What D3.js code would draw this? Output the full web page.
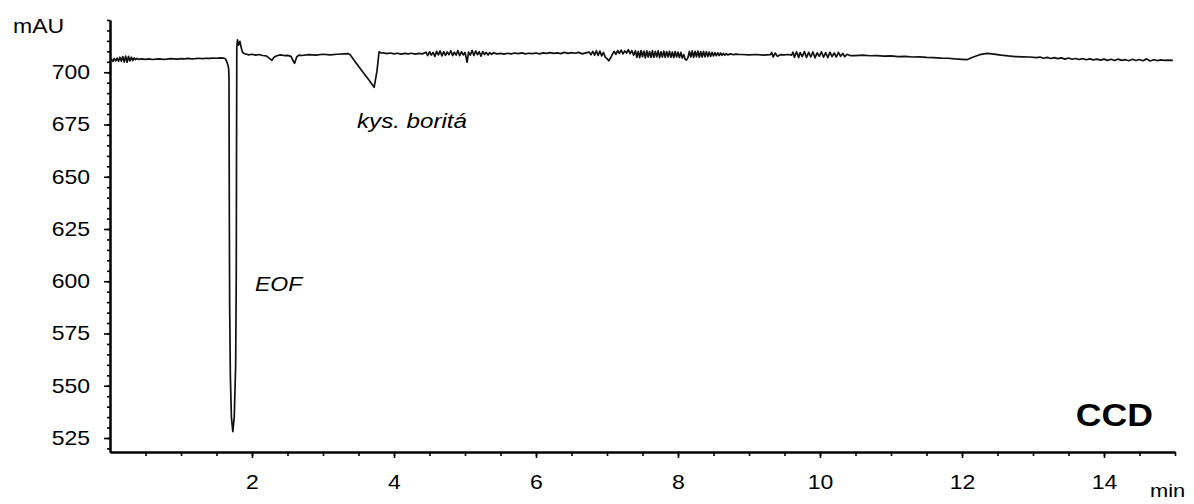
<!DOCTYPE html>
<html>
<head>
<meta charset="utf-8">
<script src="https://cdn.jsdelivr.net/npm/d3@7"></script>
<style>
  body { margin: 0; background: #fff; }
  svg { display: block; }
  text { font-family: "Liberation Sans", Arial, sans-serif; fill: #000; }
</style>
</head>
<body>
<svg width="1194" height="504"></svg>
<script>
// tick labels
var yLabels = [525, 550, 575, 600, 625, 650, 675, 700];
var xLabels = [2, 4, 6, 8, 10, 12, 14];

// electropherogram, [min, mAU]
var startNoise = [
  [0.00,705.0],[0.02,706.3],[0.04,705.2],[0.06,706.6],[0.08,705.4],[0.10,706.8],[0.12,705.3],
  [0.14,707.2],[0.16,705.3],[0.18,707.5],[0.20,704.9],[0.22,707.7],[0.24,704.8],[0.26,707.6],
  [0.28,705.4],[0.30,707.2],[0.32,705.6],[0.34,706.9],[0.36,706.0],[0.38,706.6],[0.40,706.2],
  [0.45,706.4],[0.50,706.2],[0.55,706.4],[0.60,706.1],[0.65,706.3],[0.70,706.4],[0.75,706.2],
  [0.80,706.3],[0.85,706.5],[0.90,706.4],[0.95,706.3],[1.00,706.5],[1.05,706.4],[1.10,706.6],
  [1.15,706.4],[1.20,706.5],[1.25,706.7],[1.30,706.5],[1.35,706.7],[1.40,706.6],[1.45,706.8],
  [1.50,706.7],[1.55,706.9],[1.60,706.8]
];
var eofPeak = [
  [1.62,706.6],[1.64,705.5],[1.66,703.5],[1.67,702.0],[1.676,698],[1.68,640],[1.685,590],
  [1.695,555],[1.71,535],[1.73,528],[1.75,535],[1.77,560],[1.778,600],[1.782,660],[1.786,712],
  [1.795,715.5],[1.81,713.0],[1.83,714.8],[1.85,711.5],[1.87,709.3],[1.90,708.8],[1.93,708.6],
  [1.95,708.3],[2.00,708.6],[2.05,708.2],[2.10,708.5],[2.15,708.0],[2.20,707.8],[2.25,706.5],
  [2.28,705.7],[2.31,707.2],[2.35,707.9],[2.40,708.3],[2.45,708.0],[2.50,708.1],[2.55,707.6],
  [2.58,705.5],[2.60,704.3],[2.63,707.3],[2.66,708.2],[2.70,708.0],[2.80,708.4],[2.90,708.2],
  [3.00,708.6],[3.10,708.3],[3.20,708.6],[3.30,708.8],[3.35,708.9]
];
var boricDip = [
  [3.38,708.5],[3.45,705.2],[3.55,700.6],[3.65,696.2],[3.72,692.8],[3.76,700.5],[3.79,709.8],
  [3.82,709.2],[3.85,709.3],[3.90,708.9],[3.95,709.2],[4.00,708.8],[4.05,709.1],[4.10,708.7],
  [4.15,709.0],[4.20,708.8],[4.25,709.1],[4.30,708.7],[4.35,709.0],[4.40,708.8]
];
var noiseA = [
  [4.45,709.6],[4.475,708.0],[4.50,709.8],[4.525,708.2],[4.55,709.5],[4.575,707.6],[4.60,710.0],
  [4.625,708.3],[4.65,710.2],[4.675,707.8],[4.70,709.9],[4.725,708.1],[4.75,709.7],[4.775,708.4],
  [4.80,710.3],[4.825,708.0],[4.85,709.6],[4.875,708.2],[4.90,710.4],[4.925,707.9],[4.95,709.8],
  [4.975,708.3],[5.00,709.5],[5.03,704.8],[5.05,709.6],[5.075,708.2],[5.10,710.5],[5.125,708.0],
  [5.15,710.2],[5.175,708.4],[5.20,709.8],[5.225,707.7],[5.25,709.9],[5.275,708.5],[5.30,709.5],
  [5.325,708.2],[5.35,709.4],[5.375,708.6],[5.40,709.3],[5.45,708.8],
  [5.50,709.0],[5.55,708.7],[5.60,709.1],[5.65,708.8],[5.70,709.2],[5.75,708.9],[5.80,709.3],
  [5.85,708.8],[5.90,709.1],[5.95,708.9],[6.00,709.2],[6.05,708.8],[6.10,709.3],[6.15,709.0],
  [6.20,709.4],[6.25,709.0],[6.30,709.3],[6.35,708.9],[6.40,709.5],[6.45,709.0],[6.50,709.4],
  [6.55,709.1],[6.60,709.5],[6.65,708.8],[6.70,709.3]
];
var noiseB = [
  [6.75,709.6],[6.775,708.4],[6.80,710.0],[6.825,708.2],[6.85,710.3],[6.875,708.0],[6.90,710.1],
  [6.925,707.8],[6.95,709.5],[6.975,707.2],[7.00,706.5],[7.025,705.5],[7.05,706.8],[7.075,708.5],
  [7.10,710.0],[7.125,708.6],[7.15,710.4],[7.175,709.0],[7.20,710.6],[7.225,708.8],[7.25,710.2],
  [7.275,709.2],[7.30,710.8],[7.325,708.9],[7.35,710.3],[7.375,708.2],
  [7.40,710.3],[7.42,707.2],[7.44,710.0],[7.46,707.0],[7.48,710.4],[7.50,707.4],[7.52,710.1],
  [7.54,706.9],[7.56,710.2],[7.58,707.3],[7.60,709.9],[7.62,707.1],[7.64,710.3],[7.66,707.2],
  [7.68,710.0],[7.70,707.4],[7.72,710.2],[7.74,707.0],[7.76,709.8],[7.78,707.3],[7.80,710.1],
  [7.82,707.1],[7.84,709.9],[7.86,707.4],[7.88,710.0],[7.90,707.2],[7.92,709.7],[7.94,707.0],
  [7.96,709.9],[7.98,707.3],[8.00,709.6],[8.02,707.1],[8.04,709.5],[8.06,706.8],[8.08,708.5],
  [8.10,706.2],[8.12,705.8],[8.14,707.0],[8.16,710.0],[8.18,707.3],[8.20,710.2],[8.22,707.1],
  [8.24,710.0],[8.26,707.4],[8.28,710.1],[8.30,707.2],[8.32,709.9],[8.34,707.3],[8.36,710.0],
  [8.38,707.4],[8.40,709.8],[8.42,707.5],[8.44,709.7],[8.46,707.6],[8.48,709.5],[8.50,707.8],
  [8.52,709.4],[8.54,707.9],[8.56,709.3],[8.58,708.0],[8.60,709.2],[8.62,708.1],[8.64,709.0],
  [8.66,708.2],[8.68,708.9],[8.70,708.3],[8.74,708.8],[8.78,708.4],[8.82,708.7],[8.86,708.5]
];
var noiseC = [
  [8.90,708.5],[9.00,708.3],[9.10,708.5],[9.20,708.2],[9.30,708.4],[9.32,709.5],[9.34,707.3],
  [9.37,709.2],[9.40,707.6],[9.44,708.4],[9.50,708.3],[9.55,708.5],[9.60,708.2],[9.62,709.6],
  [9.64,707.2],[9.67,709.8],[9.70,707.0],[9.72,709.4],[9.75,707.5],[9.78,709.9],[9.81,707.1],
  [9.84,709.5],[9.87,707.4],[9.90,709.7],[9.93,706.9],[9.96,709.3],[9.99,707.6],[10.02,709.8],
  [10.05,707.2],[10.08,709.4],[10.11,707.0],[10.14,709.6],[10.17,707.5],[10.20,709.2],[10.23,707.3],
  [10.26,709.5],[10.29,707.6],[10.32,709.0],[10.35,707.4],[10.38,708.6],[10.42,708.0]
];
var tail = [
  [10.50,708.0],[10.60,708.2],[10.70,707.9],[10.80,708.0],[10.90,707.7],[11.00,707.8],[11.10,707.5],
  [11.20,707.6],[11.30,707.3],[11.40,707.4],[11.50,707.1],[11.60,707.0],[11.70,706.8],[11.80,706.7],
  [11.90,706.4],[12.00,706.2],[12.07,706.0],[12.15,707.2],[12.25,708.4],[12.35,709.0],[12.45,708.7],
  [12.55,708.2],[12.65,707.8],[12.75,707.5],[12.85,707.4],[12.95,707.3],[13.05,707.0],[13.10,707.3],
  [13.15,706.7],[13.20,707.1],[13.25,706.6],[13.30,707.0],[13.35,706.5],[13.40,706.9],[13.45,706.3],
  [13.50,706.8],[13.55,706.2],[13.60,706.6],[13.65,706.1],[13.70,706.5],[13.75,706.0],[13.80,706.4],
  [13.85,705.9],[13.90,706.3],[13.95,705.8],[14.00,706.3],[14.05,705.7],[14.10,706.2],[14.15,705.6],
  [14.20,706.3],[14.25,705.7],[14.30,706.0],[14.35,705.5],[14.40,706.2],[14.45,705.6],[14.50,706.1],
  [14.55,705.5],[14.60,706.4],[14.65,705.4],[14.70,706.0],[14.75,705.6],[14.80,705.9],[14.85,705.7],
  [14.90,705.8],[14.97,705.7]
];

var trace = [].concat(startNoise, eofPeak, boricDip, noiseA, noiseB, noiseC, tail);

var sx = 1.15; // the picture is a bit stretched sideways

var svg = d3.select('svg');

var xScale = d3.scaleLinear()
    .domain([0, 15])
    .range([110, 1175]);

var yScale = d3.scaleLinear()
    .domain([518.3, 725])
    .range([452, 20]);

// minor ticks
var xMinor = d3.axisBottom(xScale)
    .tickValues(d3.range(0.5, 15.01, 0.5))
    .tickSize(4).tickSizeOuter(0).tickFormat('');
svg.append('g')
    .attr('transform', 'translate(0,452)')
    .call(xMinor);

var yMinor = d3.axisLeft(yScale)
    .tickValues(d3.range(520, 725.1, 5))
    .tickSize(3).tickSizeOuter(0).tickFormat('');
svg.append('g')
    .attr('transform', 'translate(110,0)')
    .call(yMinor);

// major ticks + labels
var xAxis = d3.axisBottom(xScale)
    .tickValues(xLabels)
    .tickSize(6).tickSizeOuter(0).tickPadding(17);
var gx = svg.append('g')
    .attr('class', 'x axis')
    .attr('transform', 'translate(0,452)')
    .call(xAxis);

var yAxis = d3.axisLeft(yScale)
    .tickValues(yLabels)
    .tickSize(6).tickSizeOuter(0).tickPadding(14);
var gy = svg.append('g')
    .attr('class', 'y axis')
    .attr('transform', 'translate(110,0)')
    .call(yAxis);

svg.selectAll('.domain').attr('stroke', '#000').attr('stroke-width', 2);
svg.selectAll('.tick line').attr('stroke', '#000').attr('stroke-width', 1.6);

gx.selectAll('text')
    .style('font-size', '20px')
    .attr('fill', '#000')
    .attr('transform', 'scale(' + sx + ',1)');
gy.selectAll('text')
    .style('font-size', '20px')
    .attr('fill', '#000')
    .attr('x', -20 / sx)
    .attr('transform', 'scale(' + sx + ',1)');

// trace
var line = d3.line()
    .x(function(d) { return xScale(d[0]); })
    .y(function(d) { return yScale(d[1]); });

svg.append('path')
    .datum(trace)
    .attr('d', line)
    .attr('fill', 'none')
    .attr('stroke', '#111')
    .attr('stroke-width', 1.7)
    .attr('stroke-linejoin', 'round');

// labels
function label(x, y, txt, size, extra) {
    var t = svg.append('g')
        .attr('transform', 'translate(' + x + ',' + y + ') scale(' + sx + ',1)')
        .append('text')
        .style('font-size', size + 'px')
        .text(txt);
    if (extra) extra(t);
    return t;
}

label(13, 33, 'mAU', 20);
label(1150, 497, 'min', 19);
label(255, 291, 'EOF', 20, function(t) { t.style('font-style', 'italic'); });
label(357, 128, 'kys. boritá', 21, function(t) { t.style('font-style', 'italic'); });
label(1153, 426, 'CCD', 31, function(t) {
    t.style('font-weight', 'bold').attr('text-anchor', 'end');
});
</script>
</body>
</html>
